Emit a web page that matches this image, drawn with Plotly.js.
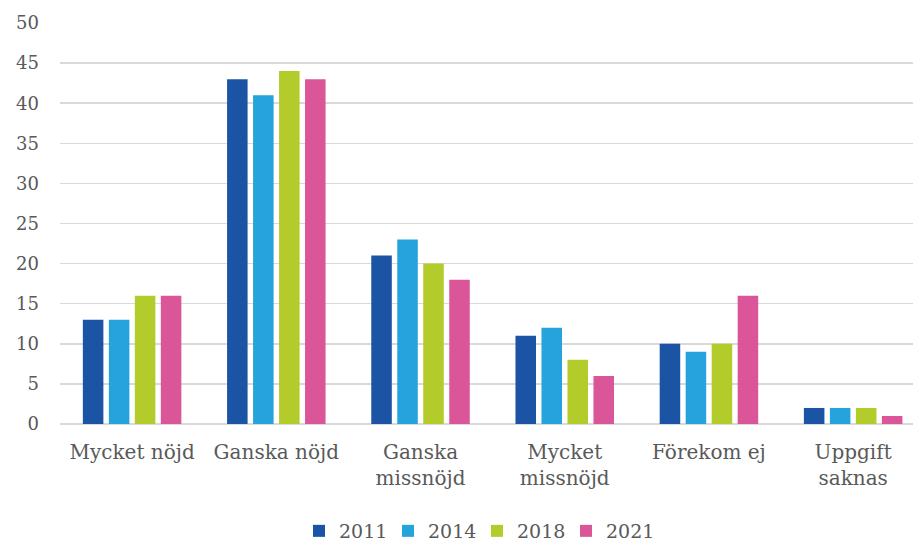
<!DOCTYPE html>
<html>
<head>
<meta charset="utf-8">
<script src="https://cdn.plot.ly/plotly-3.0.1.min.js"></script>
<style>html,body{margin:0;padding:0;background:#fff;}#chart{width:913px;height:541px;}</style>
</head>
<body>
<div id="chart"></div>
<script>
const categories = ["Mycket nöjd", "Ganska nöjd", "Ganska<br>missnöjd", "Mycket<br>missnöjd", "Förekom ej", "Uppgift<br>saknas"];
const years = ["2011", "2014", "2018", "2021"];
const values2011 = [13, 43, 21, 11, 10, 2];
const values2014 = [13, 41, 23, 12, 9, 2];
const values2018 = [16, 44, 20, 8, 10, 2];
const values2021 = [16, 43, 18, 6, 16, 1];
const colors = ["#1B54A5", "#25A3DB", "#B3CB2B", "#DA5698"];
const yTicks = [0, 5, 10, 15, 20, 25, 30, 35, 40, 45, 50];

const series = [values2011, values2014, values2018, values2021];
const traces = series.map((vals, i) => ({
  type: 'bar',
  name: years[i],
  x: categories,
  y: vals,
  marker: {color: colors[i]},
  hoverinfo: 'none'
}));

const font = {family: '"DejaVu Serif", "Liberation Serif", serif', color: '#595959'};

const layout = {
  width: 913, height: 541,
  margin: {l: 60, r: 0, t: 23, b: 117, autoexpand: false},
  paper_bgcolor: '#fff', plot_bgcolor: '#fff',
  barmode: 'group',
  bargap: 0.279,
  bargroupgap: 0.21,
  font: Object.assign({size: 18}, font),
  showlegend: true,
  legend: {
    orientation: 'h', x: 299 / 913, xanchor: 'left', xref: 'container',
    y: 10 / 541, yanchor: 'middle', yref: 'container',
    font: Object.assign({size: 19}, font),
    entrywidth: 44, entrywidthmode: 'pixels',
    traceorder: 'normal'
  },
  xaxis: {
    type: 'category',
    range: [-0.5, 5.415],
    showgrid: false, zeroline: false,
    showline: false, automargin: false,
    ticks: '', ticklabelstandoff: 14,
    tickfont: Object.assign({size: 20}, font),
    fixedrange: true
  },
  yaxis: {
    range: [0, 50],
    tickvals: yTicks,
    ticktext: yTicks.map(String),
    showgrid: true, gridcolor: '#D9D9D9', gridwidth: 1.5,
    zeroline: true, zerolinecolor: '#D9D9D9', zerolinewidth: 1.5,
    showline: false, ticks: '', automargin: false,
    ticklabelstandoff: 20,
    tickfont: Object.assign({size: 18}, font),
    fixedrange: true
  }
};

Plotly.newPlot('chart', traces, layout, {staticPlot: true, displayModeBar: false});
</script>
</body>
</html>
